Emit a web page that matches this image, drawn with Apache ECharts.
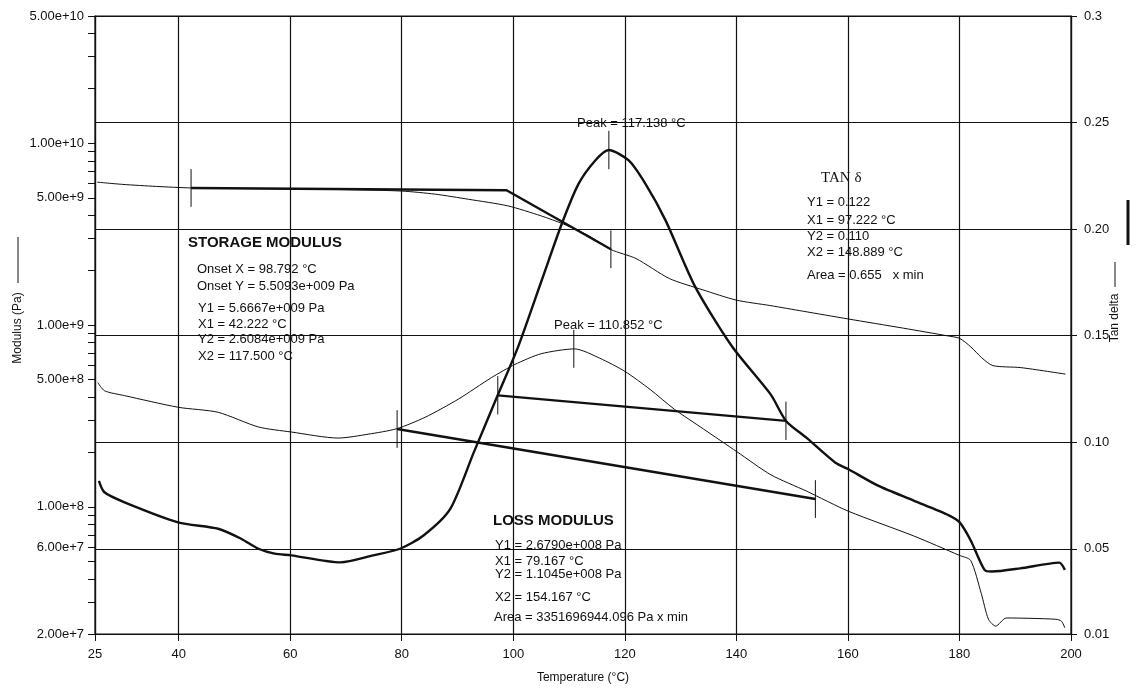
<!DOCTYPE html>
<html>
<head>
<meta charset="utf-8">
<title>DMA</title>
<script src="https://cdn.jsdelivr.net/npm/echarts@6.0.0/dist/echarts.min.js"></script>
<style>
html,body{margin:0;padding:0;background:#fff;}
#dma_chart{width:1140px;height:689px;}
</style>
</head>
<body>
<div id="dma_chart"></div>
<script>
// 坐标轴刻度
var tempTicks = [25, 40, 60, 80, 100, 120, 140, 160, 180, 200];
var modLabelVals = [2e7, 6e7, 1e8, 5e8, 1e9, 5e9, 1e10, 5e10];
var tanTickVals = [0.01, 0.05, 0.10, 0.15, 0.20, 0.25, 0.3];
var tanTickLabels = ['0.01', '0.05', '0.10', '0.15', '0.20', '0.25', '0.3'];

// storage modulus (thin)
var storageTemp = [25.4, 30, 36, 42.2, 50, 60, 70, 80, 86, 92, 99, 105, 109, 113.5, 117.5, 122, 128, 134, 140, 146, 152, 160, 170, 178, 180, 182, 184, 186, 191, 199];
var storageMod = [6.1e9, 5.93e9, 5.78e9, 5.67e9, 5.63e9, 5.6e9, 5.55e9, 5.45e9, 5.24e9, 4.91e9, 4.52e9, 3.98e9, 3.59e9, 3.1e9, 2.6e9, 2.32e9, 1.8e9, 1.56e9, 1.37e9, 1.28e9, 1.19e9, 1.08e9, 9.6e8, 8.7e8, 8.45e8, 7.6e8, 6.6e8, 5.98e8, 5.83e8, 5.37e8];

// loss modulus (thin)
var lossTemp = [25.5, 26.7, 30.3, 39.9, 47.1, 54.3, 60.2, 68.6, 74, 79.1, 84.2, 90.2, 96.1, 100.3, 105, 111, 115.5, 120, 124.5, 128.9, 134.1, 140.1, 146.2, 152.6, 160.1, 171.8, 180, 182, 183.9, 185.2, 186.5, 188.4, 197.3, 198.3, 198.9];
var lossMod = [4.83e8, 4.35e8, 4.09e8, 3.53e8, 3.31e8, 2.75e8, 2.58e8, 2.39e8, 2.51e8, 2.69e8, 3.11e8, 3.92e8, 5.14e8, 6.07e8, 6.95e8, 7.39e8, 6.57e8, 5.56e8, 4.43e8, 3.44e8, 2.68e8, 2.01e8, 1.5e8, 1.22e8, 9.46e7, 6.92e7, 5.41e7, 5.08e7, 3.35e7, 2.41e7, 2.21e7, 2.45e7, 2.41e7, 2.35e7, 2.16e7];

// tan delta (thick)
var tanTemp = [25.7, 26.7, 30.3, 39.9, 47.1, 51.2, 54.3, 57.2, 60.2, 69, 74.9, 79.7, 83.9, 88.7, 92.9, 97.2, 100.9, 105.1, 108.7, 111.7, 114.7, 117.1, 120.7, 123.7, 127.3, 132.6, 139.2, 146.2, 148.9, 152.6, 157.7, 160.1, 165.4, 171.8, 178.1, 180, 182, 184.5, 185.8, 190.9, 197.9, 198.9];
var tanDelta = [0.0819, 0.0765, 0.0718, 0.0624, 0.0594, 0.0547, 0.0500, 0.0477, 0.0469, 0.0436, 0.0469, 0.0500, 0.0562, 0.0687, 0.0951, 0.122, 0.145, 0.176, 0.2025, 0.2212, 0.2322, 0.2371, 0.2322, 0.2212, 0.2041, 0.173, 0.145, 0.1222, 0.110, 0.102, 0.0905, 0.0873, 0.0796, 0.0726, 0.0657, 0.0625, 0.054, 0.0401, 0.0393, 0.0408, 0.0435, 0.0401];

// 切线 / 基线
var storageTanT = [42.222, 98.792, 117.5];
var storageTanE = [5.6667e9, 5.5093e9, 2.6084e9];
var lossBaseT = [79.167, 154.167];
var lossBaseE = [2.679e8, 1.1045e8];
var tanBaseT = [97.222, 148.889];
var tanBaseD = [0.122, 0.110];

// 竖线标记
var storageMarkT = [42.222, 117.5];
var storageMarkE = [5.6667e9, 2.6084e9];
var lossMarkT = [79.167, 154.167, 110.852];
var lossMarkE = [2.679e8, 1.1045e8, 7.39e8];
var tanMarkT = [97.222, 148.889, 117.138];
var tanMarkD = [0.122, 0.110, 0.2371];

var myChart = echarts.init(document.getElementById('dma_chart'));
var INK = '#111';
var FONT = '"Liberation Sans", Arial, sans-serif';

function pairs(xs, ys) {
    return xs.map(function (x, i) { return [x, ys[i]]; });
}

// log 次刻度
var modTicks = [];
for (var p = 7; p <= 10; p++) {
    for (var k = 1; k <= 9; k++) {
        var v = k * Math.pow(10, p);
        if (v >= 2e7 && v <= 5e10) modTicks.push(v);
    }
}

var series = [];
function addLine(data, yIdx, width) {
    series.push({
        type: 'line', yAxisIndex: yIdx, data: data,
        showSymbol: false, silent: true, animation: false,
        smooth: 0.25,
        lineStyle: { color: INK, width: width }
    });
}
addLine(pairs(storageTemp, storageMod), 0, 1);
addLine(pairs(lossTemp, lossMod), 0, 1);
addLine(pairs(tanTemp, tanDelta), 1, 2.4);

function addStraight(data, yIdx, width) {
    series.push({
        type: 'line', yAxisIndex: yIdx, data: data,
        showSymbol: false, silent: true, animation: false,
        lineStyle: { color: INK, width: width }
    });
}
addStraight(pairs(storageTanT, storageTanE), 0, 2.4);
addStraight(pairs(lossBaseT, lossBaseE), 0, 2.4);
addStraight(pairs(tanBaseT, tanBaseD), 1, 2.4);

storageMarkT.forEach(function (t, i) {
    addStraight([[t, storageMarkE[i] / 1.27], [t, storageMarkE[i] * 1.27]], 0, 1);
});
lossMarkT.forEach(function (t, i) {
    addStraight([[t, lossMarkE[i] / 1.27], [t, lossMarkE[i] * 1.27]], 0, 1);
});
tanMarkT.forEach(function (t, i) {
    addStraight([[t, tanMarkD[i] - 0.009], [t, tanMarkD[i] + 0.009]], 1, 1);
});

// 注释文字
var notes = [
    ['Peak = 117.138 °C', 577, 123],
    ['Y1 = 0.122', 807, 202],
    ['X1 = 97.222 °C', 807, 220],
    ['Y2 = 0.110', 807, 236],
    ['X2 = 148.889 °C', 807, 252],
    ['Area = 0.655   x min', 807, 275],
    ['Onset X = 98.792 °C', 197, 269],
    ['Onset Y = 5.5093e+009 Pa', 197, 286],
    ['Y1 = 5.6667e+009 Pa', 198, 308],
    ['X1 = 42.222 °C', 198, 324],
    ['Y2 = 2.6084e+009 Pa', 198, 339],
    ['X2 = 117.500 °C', 198, 356],
    ['Peak = 110.852 °C', 554, 325],
    ['Y1 = 2.6790e+008 Pa', 495, 545],
    ['X1 = 79.167 °C', 495, 561],
    ['Y2 = 1.1045e+008 Pa', 495, 574],
    ['X2 = 154.167 °C', 495, 597],
    ['Area = 3351696944.096 Pa x min', 494, 617]
];
var graphics = notes.map(function (n) {
    return {
        type: 'text', x: n[1], y: n[2], silent: true,
        style: { text: n[0], font: '13px ' + FONT, fill: INK, verticalAlign: 'middle' }
    };
});
graphics.push(
    { type: 'text', x: 188, y: 243, silent: true,
      style: { text: 'STORAGE MODULUS', font: 'bold 15px ' + FONT, fill: INK, verticalAlign: 'middle' } },
    { type: 'text', x: 493, y: 521, silent: true,
      style: { text: 'LOSS MODULUS', font: 'bold 15px ' + FONT, fill: INK, verticalAlign: 'middle' } },
    { type: 'text', x: 821, y: 178, silent: true,
      style: { text: 'TAN δ', font: '15px "Liberation Serif", "Times New Roman", serif', fill: INK, verticalAlign: 'middle' } },
    // 轴名
    { type: 'text', x: 18, y: 328, rotation: Math.PI / 2, silent: true,
      style: { text: 'Modulus (Pa)', font: '12px ' + FONT, fill: INK, align: 'center', verticalAlign: 'middle' } },
    { type: 'line', silent: true, shape: { x1: 18, y1: 237, x2: 18, y2: 283 }, style: { stroke: INK, lineWidth: 1 } },
    { type: 'text', x: 1115, y: 318, rotation: Math.PI / 2, silent: true,
      style: { text: 'Tan delta', font: '12px ' + FONT, fill: INK, align: 'center', verticalAlign: 'middle' } },
    { type: 'line', silent: true, shape: { x1: 1115, y1: 262, x2: 1115, y2: 287 }, style: { stroke: INK, lineWidth: 1 } },
    { type: 'line', silent: true, shape: { x1: 1128, y1: 200, x2: 1128, y2: 245 }, style: { stroke: INK, lineWidth: 3 } }
);

var option = {
    backgroundColor: '#fff',
    animation: false,
    grid: {
        left: 95, right: 69, top: 16, bottom: 50,
        show: true, borderColor: INK, borderWidth: 1.2, backgroundColor: 'transparent'
    },
    xAxis: {
        type: 'value', min: 25, max: 200,
        name: 'Temperature (°C)', nameLocation: 'middle', nameGap: 38,
        nameTextStyle: { color: INK, fontSize: 12, fontFamily: FONT },
        axisLine: { lineStyle: { color: INK, width: 1.2 } },
        axisTick: { customValues: tempTicks, length: 7, lineStyle: { color: INK } },
        axisLabel: { customValues: tempTicks, color: INK, fontSize: 13, fontFamily: FONT, margin: 14 },
        splitLine: { show: true, lineStyle: { color: INK, width: 1.2 } }
    },
    yAxis: [{
        type: 'log', logBase: 10, min: 2e7, max: 5e10, position: 'left',
        axisLine: { show: true, lineStyle: { color: INK, width: 1.2 } },
        axisTick: { show: true, customValues: modTicks, length: 7, lineStyle: { color: INK } },
        axisLabel: {
            customValues: modLabelVals, color: INK, fontSize: 13, fontFamily: FONT, margin: 11,
            formatter: function (v) { return Number(v).toExponential(2); }
        },
        splitLine: { show: false }
    }, {
        type: 'value', min: 0.01, max: 0.3, position: 'right',
        axisLine: { show: true, lineStyle: { color: INK, width: 1.2 } },
        axisTick: { show: true, customValues: tanTickVals, length: 6, lineStyle: { color: INK } },
        axisLabel: {
            customValues: tanTickVals, color: INK, fontSize: 13, fontFamily: FONT, margin: 13,
            formatter: function (v) {
                var i = tanTickVals.findIndex(function (t) { return Math.abs(t - v) < 1e-6; });
                return i >= 0 ? tanTickLabels[i] : '';
            }
        },
        splitLine: { show: true, lineStyle: { color: INK, width: 1.2 } }
    }],
    series: series,
    graphic: graphics
};
myChart.setOption(option);
</script>
</body>
</html>
